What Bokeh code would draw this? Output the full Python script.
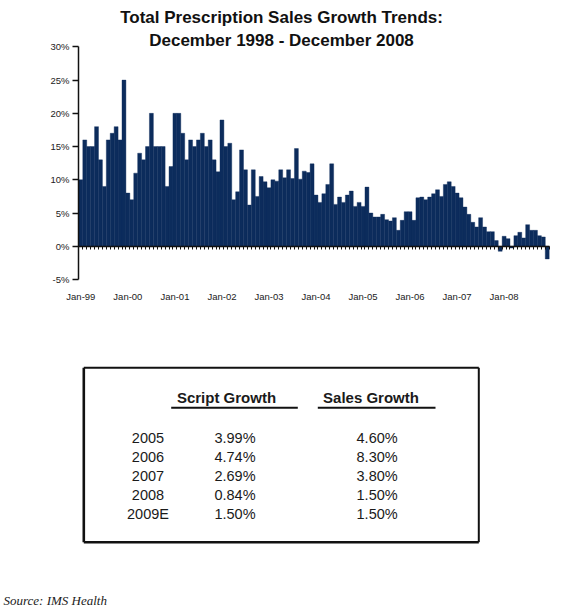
from bokeh.plotting import figure
from bokeh.models import Range1d, FixedTicker, LinearAxis, PrintfTickFormatter, Label
from bokeh.layouts import column
from bokeh.embed import file_html
from bokeh.resources import INLINE
from bokeh.core.properties import value

# ---------------- data ----------------
growth = [
    10, 16, 15, 15, 18, 13, 9, 16, 17, 18, 16, 25,               # 1999
    8, 7, 11, 14, 13, 15, 20, 15, 15, 15, 9, 12,                 # 2000
    20, 20, 17, 13, 16, 15, 16, 17, 15, 16, 13, 11.2,            # 2001
    19, 15, 15.5, 7, 8.2, 14.5, 11.5, 6.2, 11.5, 7.5, 10.5, 9.7, # 2002
    8.8, 10, 9.8, 11.5, 10.3, 11.5, 10.2, 14.7, 10.1, 11.3, 11.1, 12.4,  # 2003
    7.7, 6.6, 7.9, 9.3, 12.4, 6.3, 7.4, 6.6, 7.7, 8.3, 6.0, 6.6,  # 2004
    6.0, 8.9, 5.0, 4.4, 4.4, 4.8, 4.0, 3.8, 4.3, 2.4, 3.9, 5.2,   # 2005
    5.2, 3.9, 7.3, 7.4, 7.0, 7.4, 7.9, 8.5, 7.5, 9.3, 9.7, 9.0,   # 2006
    8.0, 7.3, 5.9, 4.8, 3.6, 2.9, 4.3, 2.9, 2.2, 2.2, 0.85, -0.75,  # 2007
    1.5, 1.15, -0.25, 1.6, 2.1, 1.25, 3.25, 2.4, 2.4, 1.6, 1.4, -1.9,  # 2008
]
month_index = list(range(len(growth)))
jan_labels = ["Jan-99", "Jan-00", "Jan-01", "Jan-02", "Jan-03",
              "Jan-04", "Jan-05", "Jan-06", "Jan-07", "Jan-08"]
y_ticks = [-5, 0, 5, 10, 15, 20, 25, 30]
title_lines = ["Total Prescription Sales Growth Trends:",
               "December 1998 - December 2008"]

table_years = ["2005", "2006", "2007", "2008", "2009E"]
script_growth = ["3.99%", "4.74%", "2.69%", "0.84%", "1.50%"]
sales_growth = ["4.60%", "8.30%", "3.80%", "1.50%", "1.50%"]
table_headers = ["Script Growth", "Sales Growth"]
source_text = "Source: IMS Health"

NAVY = "#0c2c5c"
FONT = "Liberation Sans"
W = 586

# ---------------- chart ----------------
n = len(growth)
jan_pos = [i for i in month_index if i % 12 == 0]

p = figure(width=W, height=308,
           x_range=Range1d(-0.6, n + 0.6), y_range=Range1d(-5, 36.98),
           output_backend="svg", toolbar_location=None, title=None,
           min_border_left=78, min_border_right=33,
           min_border_top=0, min_border_bottom=29,
           x_axis_location=None, y_axis_location=None)
p.frame_align = False
p.outline_line_color = None
p.grid.grid_line_color = None
p.background_fill_color = "white"

p.vbar(x=month_index, top=growth, bottom=0, width=1.0,
       fill_color=NAVY, line_color=NAVY, line_width=0.4)

yax = LinearAxis(ticker=FixedTicker(ticks=y_ticks),
                 formatter=PrintfTickFormatter(format="%d%%"),
                 bounds=(-5, 30), axis_line_width=1.5, axis_line_color="#111",
                 major_tick_out=6, major_tick_in=0, major_tick_line_width=1.5,
                 major_tick_line_color="#111",
                 minor_tick_line_color=None, major_label_standoff=3,
                 major_label_text_font_size="9.5px",
                 major_label_text_font=FONT, major_label_text_color="#222")
p.add_layout(yax, "left")

xax = LinearAxis(ticker=FixedTicker(ticks=jan_pos),
                 major_label_overrides={pos: lab for pos, lab in zip(jan_pos, jan_labels)},
                 axis_line_color=None, major_tick_line_color=None,
                 minor_tick_line_color=None, major_tick_out=0,
                 major_label_standoff=11, major_label_text_font_size="9.5px",
                 major_label_text_font=FONT, major_label_text_color="#222")
p.add_layout(xax, "below")

zax = LinearAxis(fixed_location=0,
                 ticker=FixedTicker(ticks=[i - 0.5 for i in range(n + 1)]),
                 bounds=(-0.6, n - 0.5), axis_line_width=1.5, axis_line_color="#111",
                 major_tick_out=3, major_tick_in=0, major_tick_line_color="#111",
                 minor_tick_line_color=None,
                 major_label_text_color=None, major_label_text_font_size="0px",
                 major_label_standoff=0)
p.add_layout(zax, "below")

for txt, yy in zip(title_lines, [34.42, 30.96]):
    p.add_layout(Label(x=51.2, y=yy, text=txt, text_align="center",
                       text_baseline="middle", text_font=FONT,
                       text_font_style="bold", text_font_size="17px",
                       text_color="#111"))

# ---------------- table ----------------
t = figure(width=W, height=300, x_range=Range1d(0, W), y_range=Range1d(300, 0),
           output_backend="svg", toolbar_location=None, title=None,
           min_border=0, x_axis_location=None, y_axis_location=None)
t.frame_align = False
t.outline_line_color = None
t.grid.grid_line_color = None

# frame of the table box
t.line(x=[83.3, 478.3], y=[59.3, 59.3], line_color="#111", line_width=2)
t.line(x=[478.3, 478.3], y=[59.3, 233.7], line_color="#111", line_width=2)
t.line(x=[83.3, 83.3], y=[59.3, 233.7], line_color="#111", line_width=2.6)
t.line(x=[83.3, 478.3], y=[233.7, 233.7], line_color="#111", line_width=2.6)

# headers with underlines
t.text(x=[226, 370.5], y=[89.3, 89.3], text=table_headers,
       text_align="center", text_baseline="middle",
       text_font=value(FONT), text_font_style="bold", text_font_size="15px",
       text_color="#1a1a1a")
t.segment(x0=[170.7, 317.3], y0=[99.3, 99.3], x1=[297.3, 435.0], y1=[99.3, 99.3],
          line_color="#111", line_width=2)

row_y = [129.3 + 19 * i for i in range(len(table_years))]
for xc, col in [(147.5, table_years), (234.5, script_growth), (376.6, sales_growth)]:
    t.text(x=[xc] * len(col), y=row_y, text=col,
           text_align="center", text_baseline="middle",
           text_font=value(FONT), text_font_size="14.5px", text_color="#1a1a1a")

t.text(x=[3], y=[292], text=[source_text], text_align="left",
       text_baseline="alphabetic", text_font=value("Liberation Serif"),
       text_font_style="italic", text_font_size="13px", text_color="#222")

layout = column(p, t)
open("out.html", "w").write(file_html(layout, INLINE))
